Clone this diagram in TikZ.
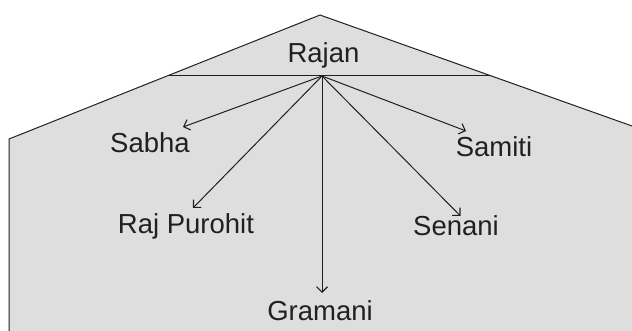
\documentclass[tikz,border=0pt]{standalone}
\usepackage{fontspec}
\setmainfont{Liberation Sans}
\usetikzlibrary{arrows.meta}
\definecolor{ink}{HTML}{231F20}
\definecolor{wall}{HTML}{DEDEDE}
\begin{document}
\begin{tikzpicture}[x=1pt,y=-1pt,
  lbl/.style={anchor=base,inner sep=0pt,text=ink,font=\fontsize{27.5}{30}\selectfont},
  edge/.style={draw=ink,line width=1pt},
  arr/.style={draw=ink,line width=1pt,-{Straight Barb[length=5.5pt,width=11pt,line width=1.1pt]}}]
\useasboundingbox (0,0) rectangle (632,331);
\coordinate (bl) at (9,331);
\coordinate (lc) at (9,139);
\coordinate (apex) at (320,15);
\coordinate (rc) at (632,126);
\coordinate (br) at (632,331);
\fill[wall] (bl) -- (lc) -- (apex) -- (rc) -- (br) -- cycle;
\draw[edge,line join=miter] (bl) -- (lc) -- (apex) -- (rc);
\coordinate (hl) at (168,75.5);
\coordinate (hr) at (490,75.5);
\draw[edge] (hl) -- (hr);
\coordinate (o) at (322,76);
\node[lbl] (rajan) at (323.5,62.7) {Rajan};
\node[lbl] (sabha) at (150,153) {Sabha};
\node[lbl] (samiti) at (494,157) {Samiti};
\node[lbl] (raj) at (186,234) {Raj Purohit};
\node[lbl] (senani) at (456,236) {Senani};
\node[lbl] (gramani) at (320,320) {Gramani};
\coordinate (tsabha) at (183,127);
\coordinate (tsamiti) at (466,131);
\coordinate (traj) at (193,208);
\coordinate (tsenani) at (460.5,216);
\coordinate (tgramani) at (322,293);
\draw[arr] (o) -- (tsabha);
\draw[arr] (o) -- (tsamiti);
\draw[arr] (o) -- (traj);
\draw[arr] (o) -- (tsenani);
\draw[arr] (o) -- (tgramani);
\end{tikzpicture}
\end{document}
